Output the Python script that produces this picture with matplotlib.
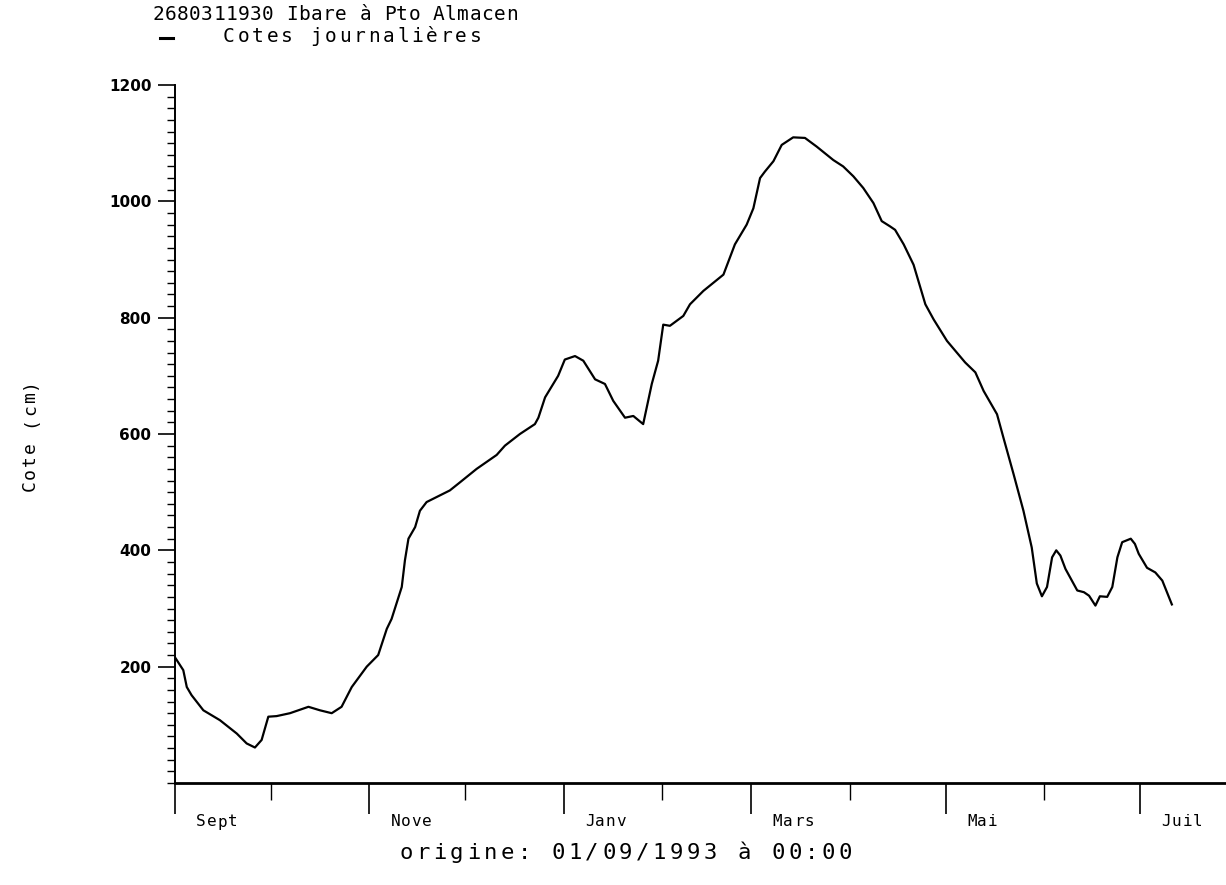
import numpy as np
import matplotlib
matplotlib.use("Agg")
import matplotlib.pyplot as plt
from matplotlib.ticker import MultipleLocator

# days since 01/09/1993, water level in cm
days = [0, 2.6, 3.7, 5.2, 8.9, 14.1, 19.4, 22.5, 25.1, 27.2, 29.3, 31.9, 36.1,
        41.9, 45.5, 49.2, 52.3, 55.5, 60.2, 63.8, 66.5, 68, 71.2, 72.2, 73.3,
        75.4, 76.9, 79, 86.3, 89.5, 94.7, 101, 103.6, 108.3, 113, 114.1, 116.2,
        120.3, 122.4, 125.6, 128.2, 131.9, 135, 137.6, 141.3, 143.9, 147, 149.7,
        151.7, 153.3, 155.4, 159.6, 161.7, 165.9, 172.2, 175.8, 179.5, 181.6,
        183.7, 185.2, 187.9, 190.5, 194.1, 197.8, 201.5, 206.7, 209.8, 213,
        216.1, 219.3, 221.9, 224.5, 226.1, 228.8, 231.9, 235.6, 238.2, 242.4,
        248.1, 251.3, 253.9, 258.1, 260.1, 263.3, 266.4, 269, 270.6, 272.2,
        273.8, 275.4, 276.7, 278, 279.6, 283.3, 285.4, 287, 289, 290.4, 292.7,
        294.3, 295.9, 297.4, 300.1, 301.4, 302.6, 305.2, 307.8, 310, 313]
cote = [216, 194, 165, 151, 125, 108, 85, 68, 61, 74, 114, 115, 120,
        131, 125, 120, 131, 165, 200, 220, 265, 282, 337, 383, 420,
        440, 468, 483, 503, 517, 540, 564, 580, 600, 617, 628, 663,
        700, 728, 734, 726, 694, 686, 657, 628, 631, 617, 686,
        726, 788, 786, 803, 823, 846, 874, 926, 960, 988,
        1040, 1051, 1069, 1097, 1110, 1109, 1094, 1071, 1060, 1043,
        1023, 997, 966, 957, 951, 926, 891, 823, 797, 760,
        723, 706, 674, 634, 594, 531, 468, 405, 343, 321,
        337, 388, 400, 391, 368, 331, 328, 322, 305, 321, 320,
        337, 388, 414, 420, 411, 394, 370, 362, 348, 307]

month_starts = [0, 30, 61, 91, 122, 153, 181, 212, 242, 273, 303]
label_days = [0, 61, 122, 181, 242, 303]
month_labels = ["Sept", "Nove", "Janv", "Mars", "Mai", "Juil"]

title = "2680311930 Ibare à Pto Almacen"
legend_label = "Cotes journalières"
ylabel = "Cote (cm)"
origin = "origine: 01/09/1993 à 00:00"

W, H = 1226, 885
MONO = "DejaVu Sans Mono"

fig = plt.figure(figsize=(W / 100, H / 100), dpi=100)
ax = fig.add_axes([175 / W, 1 - 783 / H, 1 - 175 / W, (783 - 85) / H])


def spaced(x, y, s, step, size, vertical=False, weight="normal"):
    # plotter-style text: fixed advance per character, in pixels
    for i, ch in enumerate(s):
        if vertical:
            fig.text(x / W, 1 - (y - i * step) / H, ch, rotation=90,
                     ha="center", va="center", fontsize=size, family=MONO,
                     fontweight=weight)
        else:
            fig.text((x + i * step) / W, 1 - y / H, ch,
                     ha="center", va="center", fontsize=size, family=MONO,
                     fontweight=weight)


ax.plot(days, cote, color="black", lw=1.6)

ax.set_xlim(0, 330)
ax.set_ylim(0, 1200)
for s in ["top", "right"]:
    ax.spines[s].set_visible(False)
ax.spines["left"].set_linewidth(1.4)
ax.spines["bottom"].set_linewidth(2)

ax.yaxis.set_major_locator(MultipleLocator(200))
ax.yaxis.set_minor_locator(MultipleLocator(20))
ax.set_yticks([200, 400, 600, 800, 1000, 1200])
ax.tick_params(axis="y", which="major", length=12, width=1.2, pad=5, labelsize=11)
ax.tick_params(axis="y", which="minor", length=6, width=1)
for t in ax.get_yticklabels():
    t.set_fontweight("bold")

ax.set_xticks(label_days)
ax.set_xticks([d for d in month_starts if d not in label_days], minor=True)
ax.set_xticklabels([])
ax.tick_params(axis="x", which="major", length=22, width=1.2)
ax.tick_params(axis="x", which="minor", length=12, width=1)

fig.canvas.draw()
for d, lab in zip(label_days, month_labels):
    px = ax.transData.transform((d, 0))[0]
    spaced(px + 26, 822, lab, 10.5, 11.5)

spaced(158, 15, title, 12.2, 14)
fig.lines.append(plt.Line2D([160 / W, 173 / W], [1 - 38 / H, 1 - 38 / H],
                            color="black", lw=2.2, transform=fig.transFigure))
spaced(229, 37, legend_label, 14.5, 14)
spaced(30, 486, ylabel, 12.8, 13, vertical=True)
spaced(406, 853, origin, 16.9, 16)

fig.savefig("out.png", dpi=100)
